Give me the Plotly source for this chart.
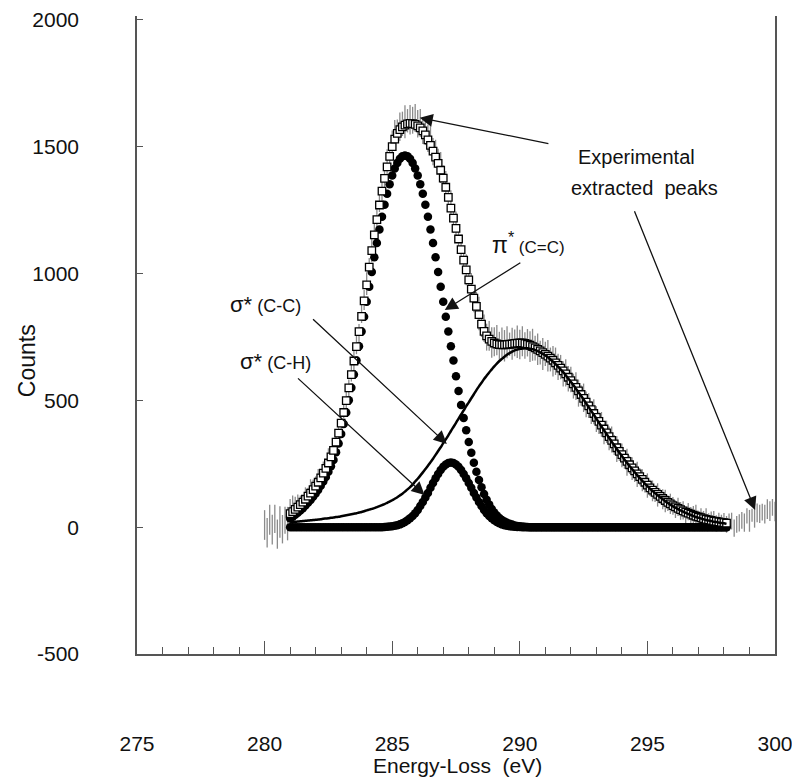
import numpy as np
import plotly.graph_objects as go

# ---------------- data ----------------
# energy grid of fitted / extracted curves: 281.0 .. 298.1 eV, step 0.1
E_FIT = np.round(np.arange(281.0, 298.15, 0.1), 1)
# energy grid of raw experimental data: 280.0 .. 300.0 eV, step 0.1
E_EXP = np.round(np.arange(280.0, 300.05, 0.1), 1)

# pi*(C=C) component (filled circles)
PI_CC = [
    34, 41, 49, 57, 66, 75, 85, 96, 107, 120,
    133, 147, 163, 180, 198, 218, 240, 265, 295, 330,
    367, 407, 452, 500, 550, 602, 657, 713, 771, 829,
    889, 948, 1006, 1064, 1120, 1173, 1224, 1271, 1314, 1352,
    1386, 1414, 1436, 1452, 1462, 1465, 1462, 1452, 1436, 1414,
    1386, 1352, 1314, 1271, 1224, 1173, 1120, 1064, 1006, 948,
    889, 829, 771, 713, 657, 595, 537, 482, 430, 382,
    336, 293, 254, 218, 186, 157, 131, 108, 89, 72,
    58, 46, 36, 28, 22, 17, 13, 10, 7, 5,
    4, 3, 2, 1, 0, 0, 0, 0, 0, 0,
    0, 0, 0, 0, 0, 0, 0, 0, 0, 0,
    0, 0, 0, 0, 0, 0, 0, 0, 0, 0,
    0, 0, 0, 0, 0, 0, 0, 0, 0, 0,
    0, 0, 0, 0, 0, 0, 0, 0, 0, 0,
    0, 0, 0, 0, 0, 0, 0, 0, 0, 0,
    0, 0, 0, 0, 0, 0, 0, 0, 0, 0,
    0, 0, 0, 0, 0, 0, 0, 0, 0, 0,
    0, 0,
]

# sigma*(C-H) component (filled circles, merged into a thick line)
SIGMA_CH = [
    0, 0, 0, 0, 0, 0, 0, 0, 0, 0,
    0, 0, 0, 0, 0, 0, 0, 0, 0, 0,
    0, 0, 0, 0, 0, 0, 0, 0, 0, 0,
    0, 0, 0, 0, 0, 0, 0, 1, 2, 3,
    4, 6, 8, 11, 15, 20, 27, 35, 44, 55,
    68, 83, 99, 117, 135, 155, 174, 193, 210, 225,
    238, 247, 253, 255, 253, 247, 238, 225, 210, 193,
    174, 155, 135, 117, 99, 83, 68, 55, 44, 35,
    27, 20, 15, 11, 8, 6, 4, 3, 2, 1,
    1, 0, 0, 0, 0, 0, 0, 0, 0, 0,
    0, 0, 0, 0, 0, 0, 0, 0, 0, 0,
    0, 0, 0, 0, 0, 0, 0, 0, 0, 0,
    0, 0, 0, 0, 0, 0, 0, 0, 0, 0,
    0, 0, 0, 0, 0, 0, 0, 0, 0, 0,
    0, 0, 0, 0, 0, 0, 0, 0, 0, 0,
    0, 0, 0, 0, 0, 0, 0, 0, 0, 0,
    0, 0, 0, 0, 0, 0, 0, 0, 0, 0,
    0, 0,
]

# sigma*(C-C) component (solid line)
SIGMA_CC = [
    19, 20, 21, 22, 23, 24, 25, 26, 27, 28,
    29, 30, 31, 33, 34, 35, 37, 38, 40, 41,
    43, 45, 47, 49, 51, 53, 55, 58, 60, 63,
    66, 69, 72, 75, 79, 83, 87, 91, 96, 101,
    106, 112, 118, 125, 132, 140, 149, 158, 168, 180,
    191, 203, 216, 229, 242, 256, 270, 285, 300, 315,
    331, 346, 362, 379, 395, 411, 428, 444, 460, 477,
    492, 508, 524, 540, 555, 569, 584, 597, 610, 622,
    634, 645, 655, 664, 672, 680, 686, 692, 697, 700,
    703, 704, 705, 705, 703, 701, 698, 694, 689, 683,
    677, 670, 661, 653, 643, 633, 622, 611, 599, 586,
    573, 560, 546, 532, 518, 503, 488, 473, 458, 443,
    428, 412, 397, 382, 367, 352, 337, 323, 308, 294,
    281, 267, 254, 241, 229, 217, 205, 194, 183, 172,
    162, 152, 143, 134, 126, 118, 110, 102, 95, 89,
    82, 77, 71, 66, 61, 56, 52, 48, 44, 40,
    37, 34, 31, 28, 26, 24, 21, 20, 18, 16,
    15, 13,
]

# experimental extracted peaks (open squares)
EXTRACTED = [
    53, 61, 70, 79, 89, 99, 110, 122, 134, 148,
    162, 177, 194, 213, 232, 253, 277, 303, 335, 371,
    410, 452, 499, 549, 601, 655, 712, 771, 831, 892,
    955, 1025, 1090, 1152, 1212, 1270, 1325, 1375, 1420, 1462,
    1500, 1530, 1552, 1567, 1578, 1585, 1590, 1592, 1591, 1588,
    1582, 1574, 1562, 1546, 1527, 1505, 1482, 1459, 1434, 1407,
    1376, 1340, 1300, 1258, 1218, 1178, 1136, 1094, 1053, 1014,
    975, 938, 903, 870, 838, 800, 772, 754, 741, 732,
    726, 722, 720, 719, 719, 720, 721, 722, 724, 725,
    726, 726, 724, 721, 717, 712, 707, 701, 695, 688,
    681, 674, 666, 658, 648, 638, 627, 616, 604, 591,
    578, 565, 551, 537, 523, 508, 493, 478, 463, 448,
    433, 417, 402, 387, 372, 357, 342, 328, 313, 299,
    286, 272, 259, 246, 234, 222, 210, 199, 188, 177,
    166, 155, 146, 137, 129, 121, 113, 105, 98, 92,
    85, 80, 74, 69, 64, 59, 55, 51, 47, 43,
    40, 37, 34, 31, 29, 27, 24, 23, 21, 19,
    18, 16,
]

# raw experimental counts outside the extracted range (280.0-280.9 and 298.2-300.0)
EXP_LEFT = [5, -12, 18, -6, 22, -15, 10, -4, 20, 12]
EXP_RIGHT = [10, 25, -10, 18, 5, 30, 12, 40, 20, 45, 30, 55, 38, 60, 42, 70, 50, 75, 55]
EXP_COUNTS = EXP_LEFT + EXTRACTED + EXP_RIGHT

# scatter of the raw data (upper / lower extent of each grey stroke)
ERR_PLUS = [
    62, 48, 70, 55, 66, 45, 72, 52, 60, 68, 58, 64, 50, 50, 36, 28, 47, 33, 55, 40,
    38, 52, 29, 46, 35, 58, 31, 44, 26, 50, 37, 55, 42, 33, 60, 39, 48, 30, 56, 43,
    50, 36, 62, 45, 58, 40, 66, 52, 70, 48, 64, 75, 55, 68, 60, 78, 58, 72, 66, 80,
    62, 74, 55, 70, 60, 76, 52, 68, 58, 72, 50, 64, 56, 70, 48, 66, 54, 60, 45, 62,
    50, 64, 46, 58, 70, 52, 66, 48, 72, 56, 62, 75, 50, 68, 58, 72, 46, 64, 55, 70,
    52, 66, 44, 60, 55, 70, 48, 62, 40, 58, 50, 64, 42, 56, 60, 46, 52, 38, 58, 44,
    54, 40, 60, 45, 36, 58, 42, 50, 34, 56, 44, 38, 52, 30, 48, 40, 55, 35, 46, 32,
    44, 30, 50, 36, 42, 28, 48, 34, 40, 26, 46, 32, 38, 24, 44, 30, 36, 42, 28, 40,
    34, 26, 42, 30, 38, 22, 40, 28, 36, 45, 25, 38, 30, 44, 26, 35, 40, 24, 36, 30,
    38, 28, 44, 32, 40, 26, 46, 30, 42, 35, 48, 28, 44, 38, 50, 32, 46, 40, 52, 36,
    45,
]
ERR_MINUS = [
    55, 68, 48, 62, 45, 70, 52, 60, 46, 64, 50, 58, 44, 24, 38, 30, 20, 42, 28, 35,
    32, 26, 40, 22, 36, 30, 44, 25, 38, 28, 42, 24, 35, 46, 27, 38, 30, 44, 26, 36,
    40, 30, 46, 34, 42, 28, 50, 36, 44, 32, 48, 38, 30, 45, 36, 52, 34, 44, 40, 30,
    46, 36, 52, 40, 48, 34, 55, 42, 38, 50, 44, 36, 52, 40, 58, 46, 38, 54, 42, 60,
    48, 40, 56, 44, 62, 50, 42, 58, 46, 64, 52, 44, 60, 48, 66, 54, 46, 62, 50, 58,
    64, 52, 60, 48, 66, 56, 50, 62, 54, 68, 46, 60, 52, 64, 48, 58, 44, 62, 50, 56,
    46, 58, 50, 62, 44, 54, 60, 48, 56, 42, 58, 50, 46, 60, 40, 54, 48, 44, 56, 38,
    50, 42, 56, 36, 48, 44, 52, 34, 46, 40, 50, 32, 44, 38, 48, 30, 42, 46, 34, 40,
    36, 44, 30, 40, 34, 46, 28, 38, 42, 30, 36, 26, 40, 32, 38, 28, 34, 40, 26, 36,
    30, 38, 24, 34, 28, 40, 22, 36, 30, 26, 38, 24, 32, 36, 22, 34, 28, 38, 26, 30,
    32,
]

X_TICKS = [275, 280, 285, 290, 295, 300]
Y_TICKS = [-500, 0, 500, 1000, 1500, 2000]

for name, arr, ref in [("PI_CC", PI_CC, E_FIT), ("SIGMA_CH", SIGMA_CH, E_FIT),
                       ("SIGMA_CC", SIGMA_CC, E_FIT), ("EXTRACTED", EXTRACTED, E_FIT),
                       ("EXP_COUNTS", EXP_COUNTS, E_EXP), ("ERR_PLUS", ERR_PLUS, E_EXP),
                       ("ERR_MINUS", ERR_MINUS, E_EXP)]:
    if len(arr) != len(ref):
        raise ValueError(f"{name}: {len(arr)} values vs {len(ref)} energies")

# ---------------- figure ----------------
NARROW = "Liberation Sans Narrow, Arial Narrow, Liberation Sans, Arial, sans-serif"
SANS = "Liberation Sans, Arial, Helvetica, sans-serif"
INK = "#111111"
AXIS = "#555555"

fig = go.Figure()

fig.add_trace(go.Scatter(
    x=E_EXP, y=EXP_COUNTS, mode="markers",
    marker=dict(size=1, color="rgba(0,0,0,0)"),
    error_y=dict(type="data", symmetric=False, array=ERR_PLUS, arrayminus=ERR_MINUS,
                 color="#8a8a8a", thickness=1.3, width=0),
    showlegend=False, hoverinfo="skip"))

fig.add_trace(go.Scatter(
    x=E_FIT, y=PI_CC, mode="markers",
    marker=dict(symbol="circle", size=8.5, color="#000000", line=dict(width=0)),
    showlegend=False))

fig.add_trace(go.Scatter(
    x=E_FIT, y=SIGMA_CH, mode="markers",
    marker=dict(symbol="circle", size=8.5, color="#000000", line=dict(width=0)),
    showlegend=False))

fig.add_trace(go.Scatter(
    x=E_FIT, y=EXTRACTED, mode="markers",
    marker=dict(symbol="square", size=7.5, color="#ffffff", line=dict(width=1.3, color="#000000")),
    showlegend=False))

fig.add_trace(go.Scatter(
    x=E_FIT, y=SIGMA_CC, mode="lines",
    line=dict(color="#000000", width=2.5, shape="spline"),
    showlegend=False))

# arrows (tip -> data point, tail near label)
arrows = [
    (286.08, 1614, 291.18, 1511),
    (299.22, 68, 294.47, 1251),
    (287.06, 856, 290.08, 1046),
    (287.14, 328, 281.84, 825),
    (286.27, 127, 281.25, 592),
]
for x, y, ax, ay in arrows:
    fig.add_annotation(x=x, y=y, ax=ax, ay=ay, xref="x", yref="y", axref="x", ayref="y",
                       text="", showarrow=True, arrowhead=2, arrowsize=2.0,
                       arrowwidth=1.3, arrowcolor=INK)

labels = [
    (294.59, 1460, "Experimental"),
    (294.90, 1338, "extracted  peaks"),
]
for x, y, t in labels:
    fig.add_annotation(x=x, y=y, xref="x", yref="y", text=t, showarrow=False,
                       xanchor="center", yanchor="middle",
                       font=dict(family=NARROW, size=20, color=INK))

fig.add_annotation(x=288.82, y=1121, xref="x", yref="y", showarrow=False,
                   xanchor="left", yanchor="middle",
                   text="π<sup>*</sup><span style='font-size:17px'> (C=C)</span>",
                   font=dict(family=NARROW, size=23, color=INK))
fig.add_annotation(x=278.55, y=876, xref="x", yref="y", showarrow=False,
                   xanchor="left", yanchor="middle",
                   text="σ*<span style='font-size:18px'> (C-C)</span>",
                   font=dict(family=NARROW, size=22, color=INK))
fig.add_annotation(x=278.94, y=655, xref="x", yref="y", showarrow=False,
                   xanchor="left", yanchor="middle",
                   text="σ*<span style='font-size:18px'> (C-H)</span>",
                   font=dict(family=NARROW, size=22, color=INK))

fig.add_annotation(x=-0.173, y=0.46, xref="paper", yref="paper", text="Counts",
                   showarrow=False, textangle=-90, xanchor="center", yanchor="middle",
                   font=dict(family=SANS, size=23, color=INK))
fig.add_annotation(x=0.503, y=-0.174, xref="paper", yref="paper", text="Energy-Loss  (eV)",
                   showarrow=False, xanchor="center", yanchor="middle",
                   font=dict(family=NARROW, size=21, color=INK))

# the page adds an 8 px body margin, so the figure is 8 px smaller and shifted
fig.update_layout(
    width=792, height=770,
    margin=dict(l=129, r=25, t=8, b=124),
    paper_bgcolor="white", plot_bgcolor="white",
    showlegend=False,
    xaxis=dict(range=[275, 300], tickvals=X_TICKS, ticktext=[str(v) for v in X_TICKS],
               ticks="inside", ticklen=13, tickwidth=1.2, tickcolor=AXIS,
               minor=dict(dtick=1, tick0=275, ticks="inside", ticklen=7, tickwidth=1, tickcolor=AXIS),
               showline=True, linecolor=AXIS, linewidth=1.5, mirror=False,
               showgrid=False, zeroline=False, ticklabelstandoff=70, automargin=False,
               tickfont=dict(family=NARROW, size=21, color=INK)),
    yaxis=dict(range=[-500, 2015], tickvals=Y_TICKS, ticktext=[str(v) for v in Y_TICKS],
               ticks="inside", ticklen=6, tickwidth=1.2, tickcolor=AXIS,
               showline=True, linecolor=AXIS, linewidth=1.5, mirror=True,
               showgrid=False, zeroline=False, ticklabelstandoff=52, automargin=False,
               tickfont=dict(family=SANS, size=21, color=INK)),
)

fig.write_html("out.html")
